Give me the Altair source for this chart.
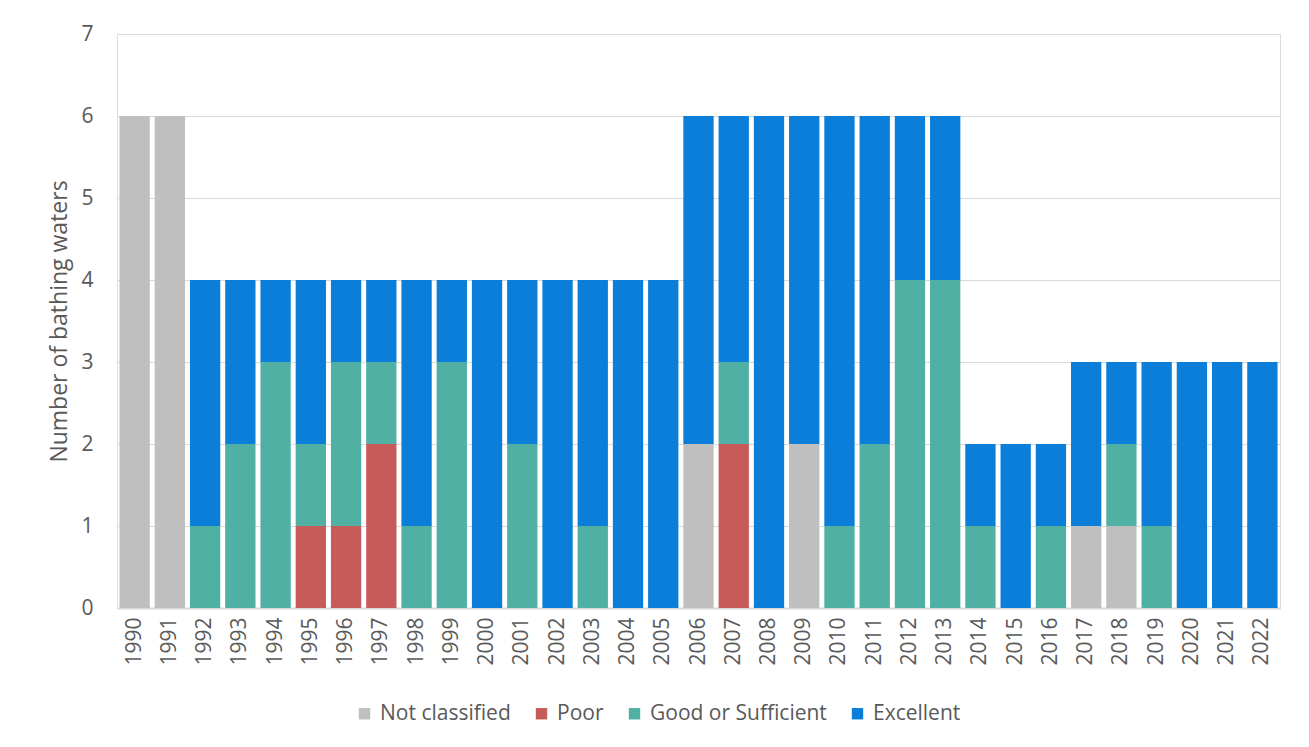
import altair as alt
import pandas as pd

years = [str(y) for y in range(1990, 2023)]
not_classified = [6, 6, 0, 0, 0, 0, 0, 0, 0, 0, 0, 0, 0, 0, 0, 0, 2, 0, 0, 2, 0, 0, 0, 0, 0, 0, 0, 1, 1, 0, 0, 0, 0]
poor =           [0, 0, 0, 0, 0, 1, 1, 2, 0, 0, 0, 0, 0, 0, 0, 0, 0, 2, 0, 0, 0, 0, 0, 0, 0, 0, 0, 0, 0, 0, 0, 0, 0]
good =           [0, 0, 1, 2, 3, 1, 2, 1, 1, 3, 0, 2, 0, 1, 0, 0, 0, 1, 0, 0, 1, 2, 4, 4, 1, 0, 1, 0, 1, 1, 0, 0, 0]
excellent =      [0, 0, 3, 2, 1, 2, 1, 1, 3, 1, 4, 2, 4, 3, 4, 4, 4, 3, 6, 4, 5, 4, 2, 2, 1, 2, 1, 2, 1, 2, 3, 3, 3]

categories = ["Not classified", "Poor", "Good or Sufficient", "Excellent"]
colors = ["#BFBFBF", "#C75B59", "#50B0A3", "#0A7ED9"]
series = [not_classified, poor, good, excellent]

rows = []
for ci, (cat, vals) in enumerate(zip(categories, series)):
    for y, v in zip(years, vals):
        rows.append({"Year": y, "Category": cat, "Value": v, "Order": ci})
df = pd.DataFrame(rows)

FONT = "Open Sans"
TXT = "#595959"

chart = alt.Chart(df).mark_bar().encode(
    x=alt.X("Year:N", sort=years,
            scale=alt.Scale(paddingInner=0.14, paddingOuter=0.07),
            axis=alt.Axis(title=None, labelAngle=-90, labelFontSize=21, labelColor=TXT,
                          labelFont=FONT, ticks=False, labelPadding=9,
                          domainColor="#D9D9D9", domainWidth=2, labelBaseline="middle", labelAlign="right")),
    y=alt.Y("Value:Q", stack="zero",
            scale=alt.Scale(domain=[0, 7], nice=False),
            axis=alt.Axis(title="Number of bathing waters", values=[0, 1, 2, 3, 4, 5, 6, 7],
                          labelFontSize=21, labelColor=TXT, labelFont=FONT, ticks=False,
                          domain=False, labelPadding=24, gridColor="#D9D9D9", gridWidth=1,
                          titleFontSize=23, titleFont=FONT, titleColor=TXT, titleFontWeight="normal",
                          titlePadding=9)),
    color=alt.Color("Category:N", sort=categories,
                    scale=alt.Scale(domain=categories, range=colors),
                    legend=alt.Legend(title=None, orient="none", direction="horizontal",
                                      legendX=237, legendY=669, symbolType="square",
                                      symbolSize=130, symbolStrokeWidth=0, labelFontSize=21,
                                      labelFont=FONT, labelColor=TXT, columnPadding=20,
                                      labelLimit=0, symbolOpacity=1, labelOffset=5)),
    order=alt.Order("Order:Q", sort="ascending"),
).properties(
    width=1163, height=574,
    autosize=alt.AutoSizeParams(type="none"),
    padding={"left": 109, "top": 26, "right": 20, "bottom": 120},
).configure_view(stroke=None).configure(background="white")

chart.save("out.html", embed_options={"renderer": "svg", "actions": False})
